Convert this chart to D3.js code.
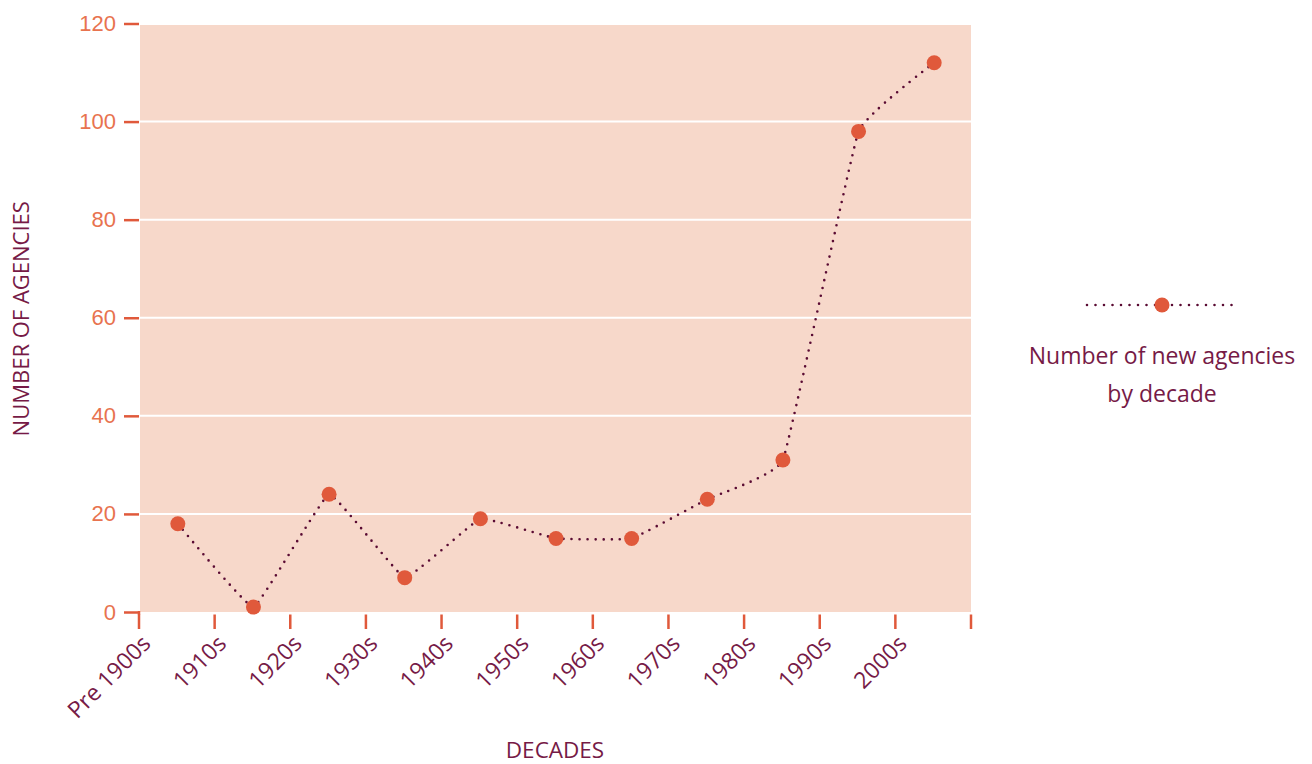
<!DOCTYPE html>
<html lang="en">
<head>
<meta charset="UTF-8">
<title>Number of new agencies by decade</title>
<script src="https://d3js.org/d3.v7.min.js"></script>
<style>
  body { margin: 0; background: #fff; font-family: "Open Sans", "Noto Sans", sans-serif; }
</style>
</head>
<body>
<script>
// chart data
const decades = ['Pre 1900s', '1910s', '1920s', '1930s', '1940s', '1950s', '1960s', '1970s', '1980s', '1990s', '2000s'];
const agencies = [18, 1, 24, 7, 19, 15, 15, 23, 31, 98, 112];
const yTicks = [0, 20, 40, 60, 80, 100, 120];
const seriesName = ['Number of new agencies', 'by decade'];

const W = 1312, H = 764;
const margin = {top: 23.5, right: 341, bottom: 152, left: 139};
const width = W - margin.left - margin.right,
      height = H - margin.top - margin.bottom;

const orange = '#e0593b', maroon = '#761a46', lineCol = '#5a0b33', bg = '#f7d8ca';

const svg = d3.select('body').append('svg')
    .attr('width', W).attr('height', H)
    .style('font-family', '"Open Sans", "Noto Sans", sans-serif');

const g = svg.append('g').attr('transform', `translate(${margin.left},${margin.top})`);

const x = d3.scaleBand().domain(decades).range([0, width]);
const y = d3.scaleLinear().domain([0, 120]).range([height, 0]);

// plot background
g.append('rect')
    .attr('x', 1).attr('y', 1.5)
    .attr('width', width - 1).attr('height', height - 1.5)
    .attr('fill', bg);

// gridlines
g.selectAll('.grid')
  .data(yTicks.filter(d => d > 0 && d < 120))
  .enter().append('line')
    .attr('x1', 1).attr('x2', width)
    .attr('y1', d => y(d)).attr('y2', d => y(d))
    .attr('stroke', '#fff').attr('stroke-width', 2);

// y axis
const yAxis = g.append('g')
    .call(d3.axisLeft(y).tickValues(yTicks).tickSize(15).tickPadding(8));
yAxis.select('.domain').remove();
yAxis.selectAll('.tick line').attr('stroke', orange).attr('stroke-width', 2.5);
yAxis.selectAll('.tick text').attr('fill', '#e8734f').style('font-size', '22px');

// x axis: ticks at band edges
const edges = decades.map(d => x(d)).concat([width]);
g.selectAll('.xtick')
  .data(edges)
  .enter().append('line')
    .attr('x1', d => d).attr('x2', d => d)
    .attr('y1', height + 2.5).attr('y2', height + 17)
    .attr('stroke', orange).attr('stroke-width', 2.5);
// corner join at origin
g.append('line')
    .attr('x1', 0).attr('x2', 0)
    .attr('y1', y(0) - 1).attr('y2', height + 3)
    .attr('stroke', orange).attr('stroke-width', 2.5);

g.selectAll('.xlabel')
  .data(decades)
  .enter().append('text')
    .attr('transform', d => `translate(${x(d) + 13},${height + 33}) rotate(-45)`)
    .attr('text-anchor', 'end')
    .attr('fill', maroon)
    .style('font-size', '23px')
    .text(d => d);

// series
const pts = decades.map((d, i) => [x(d) + x.bandwidth() / 2 + 1, y(agencies[i])]);
g.append('path')
    .attr('d', d3.line().curve(d3.curveCardinal.tension(0.75))(pts))
    .attr('fill', 'none')
    .attr('stroke', lineCol)
    .attr('stroke-width', 2.6)
    .attr('stroke-linecap', 'round')
    .attr('stroke-dasharray', '0 8');

g.selectAll('.dot')
  .data(pts)
  .enter().append('circle')
    .attr('cx', d => d[0]).attr('cy', d => d[1])
    .attr('r', 7.5)
    .attr('fill', orange);

// axis titles
svg.append('text')
    .attr('transform', `translate(29,${margin.top + height / 2 + 1}) rotate(-90)`)
    .attr('text-anchor', 'middle')
    .attr('fill', maroon)
    .style('font-size', '22px')
    .text('NUMBER OF AGENCIES');

svg.append('text')
    .attr('x', 555).attr('y', 758)
    .attr('text-anchor', 'middle')
    .attr('fill', maroon)
    .style('font-size', '22.5px')
    .text('DECADES');

// legend
const leg = svg.append('g').attr('transform', 'translate(1162,305)');
leg.append('line')
    .attr('x1', -75).attr('x2', 78)
    .attr('y1', 0).attr('y2', 0)
    .attr('stroke', lineCol).attr('stroke-width', 2.6)
    .attr('stroke-linecap', 'round')
    .attr('stroke-dasharray', '0 8.5');
leg.selectAll('.lt')
  .data(seriesName)
  .enter().append('text')
    .attr('x', 0).attr('y', (d, i) => 59 + i * 38)
    .attr('text-anchor', 'middle')
    .attr('fill', maroon)
    .style('font-size', '23px')
    .text(d => d);
leg.append('circle').attr('r', 7.5).attr('fill', orange);
</script>
</body>
</html>
